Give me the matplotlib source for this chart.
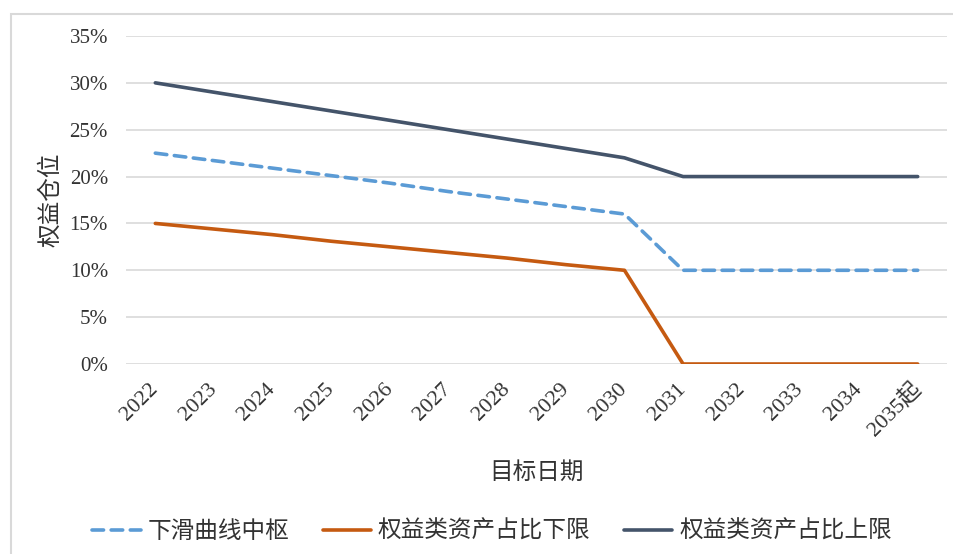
import matplotlib.pyplot as plt
from matplotlib.patches import Rectangle
from matplotlib.ticker import PercentFormatter
import numpy as np

plt.rcParams['font.family'] = ['Liberation Serif', 'Noto Sans CJK SC']

years = ['2022', '2023', '2024', '2025', '2026', '2027', '2028', '2029', '2030',
         '2031', '2032', '2033', '2034', '2035起']
mid = [22.5, 21.7, 20.9, 20.1, 19.3, 18.4, 17.6, 16.8, 16.0, 10, 10, 10, 10, 10]
lower = [15.0, 14.4, 13.8, 13.1, 12.5, 11.9, 11.3, 10.6, 10.0, 0, 0, 0, 0, 0]
upper = [30, 29, 28, 27, 26, 25, 24, 23, 22, 20, 20, 20, 20, 20]

W, H = 954, 554
fig = plt.figure(figsize=(W / 100, H / 100), dpi=100)
ax = fig.add_axes([126 / W, 1 - 364 / H, 821 / W, 328 / H])

# 外框
fig.patches.append(Rectangle((11 / W, -0.05), 1.2, 1 - 14 / H + 0.05,
                             transform=fig.transFigure, fill=False,
                             edgecolor='#D9D9D9', linewidth=1.5))

x = np.arange(len(years))
lw = 2.6
ax.plot(x, mid, color='#5B9BD5', lw=lw, ls=(0, (3.2, 2.1)),
        dash_capstyle='round', label='下滑曲线中枢')
ax.plot(x, lower, color='#C55A11', lw=lw, solid_capstyle='round', label='权益类资产占比下限')
ax.plot(x, upper, color='#44546A', lw=lw, solid_capstyle='round', label='权益类资产占比上限')

ax.set_xlim(-0.5, len(years) - 0.5)
ax.set_ylim(0, 35)
ax.set_yticks(range(0, 36, 5))
ax.yaxis.set_major_formatter(PercentFormatter(decimals=0))
ax.set_xticks(x)
ax.set_xticklabels(years, rotation=45, ha='right', va='center', rotation_mode='anchor')
ax.grid(axis='y', color='#D9D9D9', lw=1.2)
ax.set_axisbelow(True)
for s in ax.spines.values():
    s.set_visible(False)
ax.tick_params(length=0, colors='#333333')
ax.tick_params(axis='y', labelsize=15, pad=13)
ax.tick_params(axis='x', labelsize=16, pad=16)

fig.text(51 / W, 1 - 200 / H, '权益仓位', rotation=90, fontsize=17, color='#333333',
         ha='center', va='center')
fig.text(537 / W, 1 - 473 / H, '目标日期', fontsize=17, color='#333333',
         ha='center', va='center')

fig.legend(loc='center', bbox_to_anchor=(492 / W, 1 - 532 / H), ncol=3,
           frameon=False, fontsize=17, handlelength=2.05, handletextpad=0.3,
           columnspacing=1.4, labelcolor='#333333')

fig.savefig('out.png', dpi=100)
